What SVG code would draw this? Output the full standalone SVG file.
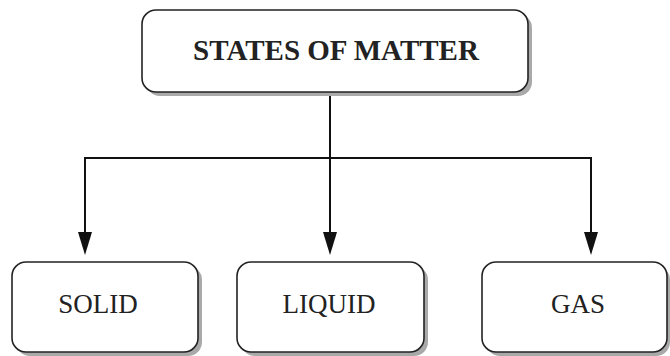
<svg xmlns="http://www.w3.org/2000/svg" width="670" height="356" viewBox="0 0 670 356">
<style>
.box{fill:#fff;stroke:#222;stroke-width:1.6}
.sh{fill:#a9a9a9}
.lbl{font-family:"Liberation Serif","Times New Roman",serif;font-size:27px;fill:#222;text-anchor:middle}
.title{font-family:"Liberation Serif","Times New Roman",serif;font-size:29px;font-weight:bold;fill:#222;text-anchor:middle}
.ln{fill:none;stroke:#111;stroke-width:2}
</style>
<defs>
<marker id="ah" markerWidth="14" markerHeight="23" refX="7" refY="23" orient="auto-start-reverse" markerUnits="userSpaceOnUse" viewBox="0 0 14 23">
<path d="M0,0 L14,0 L7,23 Z" fill="#111"/>
</marker>
</defs>
<rect width="670" height="356" fill="#fff"/>
<g id="connectors">
<path class="ln" d="M330,92 V232"/>
<path class="ln" d="M85,232 V158 H591 V232"/>
<path d="M323,232 H337 L330,255 Z" fill="#111"/>
<path d="M78,232 H92 L85,255 Z" fill="#111"/>
<path d="M584,232 H598 L591,255 Z" fill="#111"/>
</g>
<g id="states-of-matter">
<rect class="sh" x="146" y="14" width="386" height="82" rx="14"/>
<rect class="box" x="142" y="10" width="386" height="82" rx="14"/>
<text class="title" x="336" y="60">STATES OF MATTER</text>
</g>
<g id="solid">
<rect class="sh" x="16" y="266" width="186" height="90" rx="14"/>
<rect class="box" x="12" y="262" width="186" height="90" rx="14"/>
<text class="lbl" x="98" y="313">SOLID</text>
</g>
<g id="liquid">
<rect class="sh" x="241" y="266" width="187" height="90" rx="14"/>
<rect class="box" x="237" y="262" width="187" height="90" rx="14"/>
<text class="lbl" x="329" y="313">LIQUID</text>
</g>
<g id="gas">
<rect class="sh" x="486" y="266" width="184" height="90" rx="14"/>
<rect class="box" x="482" y="262" width="185" height="90" rx="14"/>
<text class="lbl" x="578" y="313">GAS</text>
</g>
</svg>
